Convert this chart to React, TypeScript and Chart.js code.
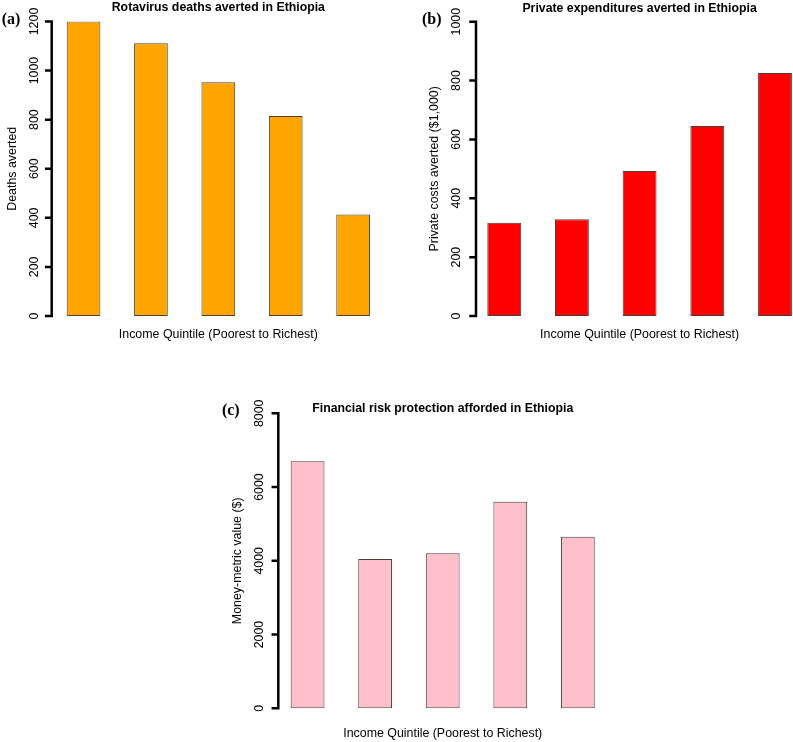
import React, { useEffect, useRef } from "react";
import { Chart, registerables } from "chart.js";

Chart.register(...registerables);

// ---------- DATA ----------
const quintileCategories = ["Poorest", "Second", "Middle", "Fourth", "Richest"];
const quintilePositions = [1.5, 3.5, 5.5, 7.5, 9.5];
const deathsAverted = [1200, 1111, 952, 815, 414];
const privateCostsAverted = [317, 329, 493, 646, 826];
const moneyMetricValue = [6698, 4049, 4203, 5603, 4654];
const deathsTicks = [0, 200, 400, 600, 800, 1000, 1200];
const costsTicks = [0, 200, 400, 600, 800, 1000];
const moneyTicks = [0, 2000, 4000, 6000, 8000];
const xAxisLabel = "Income Quintile (Poorest to Richest)";

// ---------- PANEL LAYOUT ----------
type Panel = {
  letter: string;
  title: string;
  yLabel: string;
  values: number[];
  ticks: number[];
  color: string;
  left: number;
  top: number;
  width: number;
  height: number;
  pad: { left: number; right: number; top: number; bottom: number };
  xMin: number;
  xMax: number;
  titleDy: number;
  xLabelDy: number;
  letterDx: number;
  letterDy: number;
  tickLabelDx: number;
  yLabelDx: number;
};

const panels: Panel[] = [
  {
    letter: "(a)",
    title: "Rotavirus deaths averted in Ethiopia",
    yLabel: "Deaths averted",
    values: deathsAverted,
    ticks: deathsTicks,
    color: "#FFA500",
    left: 0,
    top: 0,
    width: 396,
    height: 350,
    pad: { left: 51.7, right: 13.9, top: 21.5, bottom: 34 },
    xMin: 0.555,
    xMax: 10.36,
    titleDy: -13.5,
    xLabelDy: 19,
    letterDx: -40.7,
    letterDy: -1.8,
    tickLabelDx: -17,
    yLabelDx: -39,
  },
  {
    letter: "(b)",
    title: "Private expenditures averted in Ethiopia",
    yLabel: "Private costs averted ($1,000)",
    values: privateCostsAverted,
    ticks: costsTicks,
    color: "#FF0000",
    left: 400,
    top: 0,
    width: 420,
    height: 350,
    pad: { left: 76, right: 15.9, top: 21.7, bottom: 34 },
    xMin: 0.666,
    xMax: 10.36,
    titleDy: -13.4,
    xLabelDy: 18.5,
    letterDx: -44.3,
    letterDy: -2,
    tickLabelDx: -19,
    yLabelDx: -41,
  },
  {
    letter: "(c)",
    title: "Financial risk protection afforded in Ethiopia",
    yLabel: "Money-metric value ($)",
    values: moneyMetricValue,
    ticks: moneyTicks,
    color: "#FFC0CB",
    left: 200,
    top: 370,
    width: 420,
    height: 372,
    pad: { left: 78.3, right: 13.1, top: 43.3, bottom: 33.7 },
    xMin: 0.633,
    xMax: 10.36,
    titleDy: -4.3,
    xLabelDy: 25.5,
    letterDx: -47.5,
    letterDy: -2.3,
    tickLabelDx: -18.3,
    yLabelDx: -40.3,
  },
];

const SANS = '"Liberation Sans", Arial, Helvetica, sans-serif';
const SERIF = '"Liberation Serif", "Times New Roman", serif';

function makeAnnotator(p: Panel) {
  return {
    id: "rStyleAxes",
    afterDraw(chart: any) {
      const ctx: CanvasRenderingContext2D = chart.ctx;
      const ys = chart.scales.y;
      const xs = chart.scales.x;
      const ca = chart.chartArea;
      const axisX = ca.left;
      const yTop = ys.getPixelForValue(p.ticks[p.ticks.length - 1]);
      const yBottom = ys.getPixelForValue(p.ticks[0]);
      ctx.save();
      // axis line + tick marks
      ctx.strokeStyle = "#000";
      ctx.lineWidth = 2.5;
      ctx.lineCap = "square";
      ctx.beginPath();
      ctx.moveTo(axisX, yTop);
      ctx.lineTo(axisX, yBottom);
      p.ticks.forEach((t) => {
        const py = ys.getPixelForValue(t);
        ctx.moveTo(axisX, py);
        ctx.lineTo(axisX - 5.5, py);
      });
      ctx.stroke();
      // tick labels (rotated, parallel to axis)
      ctx.fillStyle = "#000";
      ctx.font = `12.4px ${SANS}`;
      ctx.textAlign = "center";
      ctx.textBaseline = "middle";
      p.ticks.forEach((t) => {
        const py = ys.getPixelForValue(t);
        ctx.save();
        ctx.translate(axisX + p.tickLabelDx, py);
        ctx.rotate(-Math.PI / 2);
        ctx.fillText(String(t), 0, 0);
        ctx.restore();
      });
      // y axis title
      ctx.save();
      ctx.translate(axisX + p.yLabelDx, (ca.top + ca.bottom) / 2);
      ctx.rotate(-Math.PI / 2);
      ctx.fillText(p.yLabel, 0, 0);
      ctx.restore();
      // x axis title
      const cx = xs.getPixelForValue(5.5);
      ctx.fillText(xAxisLabel, cx, ca.bottom + p.xLabelDy);
      // main title
      ctx.font = `bold 12.3px ${SANS}`;
      ctx.fillText(p.title, cx, ca.top + p.titleDy);
      // panel letter
      ctx.font = `bold 16px ${SERIF}`;
      ctx.fillText(p.letter, axisX + p.letterDx, ca.top + p.letterDy);
      ctx.restore();
    },
  };
}

function PanelChart({ p }: { p: Panel }) {
  const ref = useRef<HTMLCanvasElement | null>(null);
  useEffect(() => {
    if (!ref.current) return;
    const chart = new Chart(ref.current, {
      type: "bar",
      data: {
        labels: quintileCategories,
        datasets: [
          {
            data: p.values.map((v, i) => ({ x: quintilePositions[i], y: v })) as any,
            backgroundColor: p.color,
            borderColor: "rgba(40,30,20,0.85)",
            borderWidth: 1,
            borderSkipped: false,
            barPercentage: 0.5,
            categoryPercentage: 1,
          },
        ],
      },
      options: {
        animation: false,
        responsive: false,
        maintainAspectRatio: false,
        devicePixelRatio: 1,
        layout: { padding: p.pad },
        plugins: {
          legend: { display: false },
          tooltip: { enabled: false },
          title: { display: false },
        },
        scales: {
          x: {
            type: "linear",
            display: false,
            offset: false,
            min: p.xMin,
            max: p.xMax,
            afterBuildTicks: (s: any) => {
              s.ticks = quintilePositions.map((v) => ({ value: v }));
            },
          },
          y: {
            type: "linear",
            display: false,
            min: p.ticks[0],
            max: p.ticks[p.ticks.length - 1],
          },
        },
      },
      plugins: [makeAnnotator(p)],
    });
    return () => chart.destroy();
  }, [p]);
  return (
    <canvas
      ref={ref}
      width={p.width}
      height={p.height}
      style={{
        position: "absolute",
        left: p.left,
        top: p.top,
        width: p.width,
        height: p.height,
      }}
    />
  );
}

export default function App() {
  return (
    <div
      style={{
        position: "absolute",
        left: 0,
        top: 0,
        width: 793,
        height: 742,
        overflow: "hidden",
        background: "#fff",
      }}
    >
      {panels.map((p) => (
        <PanelChart key={p.letter} p={p} />
      ))}
    </div>
  );
}
